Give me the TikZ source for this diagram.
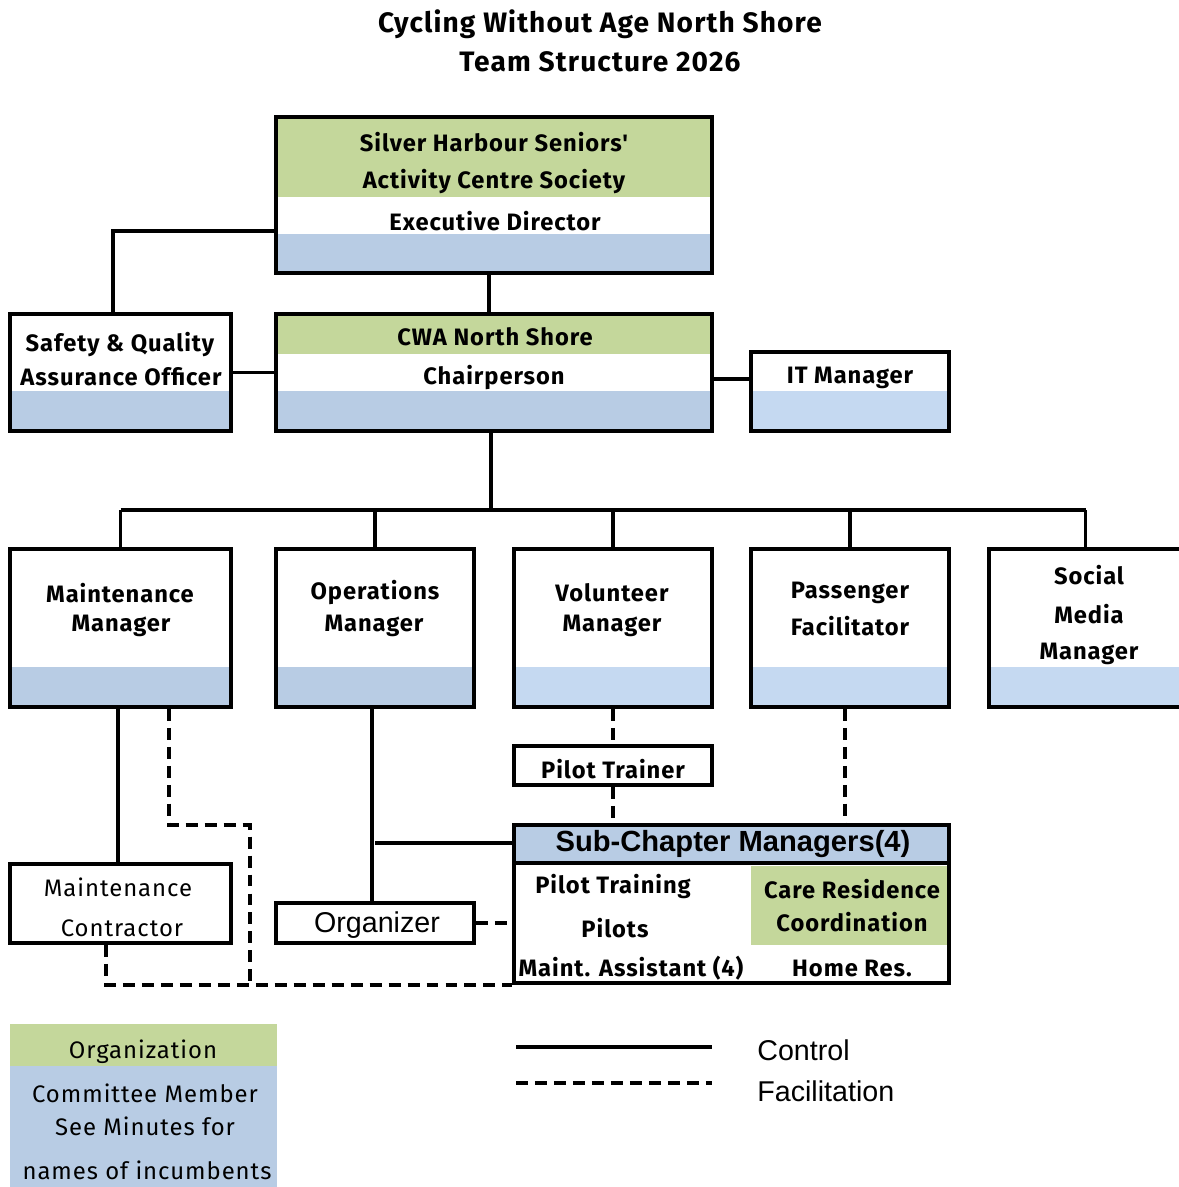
\documentclass[tikz,border=0pt]{standalone}
\usepackage{fontspec}
\setmainfont{Fira Sans}
\newfontfamily\orgfont[LetterSpace=4]{Fira Sans}
\newfontfamily\arialfont{Liberation Sans}
\usetikzlibrary{fit,calc}
\definecolor{orggreen}{HTML}{C4D79B}
\definecolor{memblue}{HTML}{B8CCE4}
\definecolor{paleblue}{HTML}{C5D9F1}
\tikzset{orgbox/.style={draw=black,line width=2.1pt,inner sep=0pt},
  ctrl/.style={draw=black,line width=2pt},
  facil/.style={draw=black,line width=2.1pt,dash pattern=on 6.8pt off 4pt},
  lbl/.style={font=\orgfont\fontsize{13.5}{15}\selectfont\bfseries,inner sep=0pt},
  plain/.style={font=\orgfont\fontsize{13.6}{15}\selectfont,inner sep=0pt},
  arl/.style={font=\arialfont\fontsize{16.3}{18}\selectfont,inner sep=0pt},
  ttl/.style={font=\orgfont\fontsize{16}{18}\selectfont\bfseries,inner sep=0pt}}
\begin{document}
\begin{tikzpicture}[x=0.02cm,y=-0.02cm]
\useasboundingbox (0,0) rectangle (1179,1187);
% title
\node[ttl] (title1) at (600,24) {Cycling Without Age North Shore};
\node[ttl] (title2) at (600,62) {Team Structure 2026};
% colour bands
\fill[orggreen] (276,117) rectangle (712,197);
\fill[memblue] (276,234) rectangle (712,273);
\fill[orggreen] (276,314) rectangle (712,354);
\fill[memblue] (276,391) rectangle (712,431);
\fill[memblue] (10,391) rectangle (231,431);
\fill[paleblue] (751,391) rectangle (949,431);
\fill[memblue] (10,667) rectangle (231,707);
\fill[memblue] (276,667) rectangle (474,707);
\fill[paleblue] (514,667) rectangle (712,707);
\fill[paleblue] (751,667) rectangle (949,707);
\fill[paleblue] (989,667) rectangle (1179,707);
\fill[memblue] (514,825) rectangle (949,863);
\fill[orggreen] (751,866) rectangle (947,945);
% boxes
\node[orgbox,fit={(276,117)(712,273)}] (exec) {};
\node[orgbox,fit={(276,314)(712,431)}] (chair) {};
\node[orgbox,fit={(10,314)(231,431)}] (safety) {};
\node[orgbox,fit={(751,352)(949,431)}] (it) {};
\node[orgbox,fit={(10,549)(231,707)}] (mm) {};
\node[orgbox,fit={(276,549)(474,707)}] (om) {};
\node[orgbox,fit={(514,549)(712,707)}] (vm) {};
\node[orgbox,fit={(751,549)(949,707)}] (pf) {};
\node[orgbox,fit={(989,549)(1182,707)}] (smm) {};
\node[orgbox,fit={(514,746)(712,785)}] (trainer) {};
\node[orgbox,fit={(514,825)(949,983)}] (subch) {};
\node[orgbox,fit={(10,864)(231,943)}] (contr) {};
\node[orgbox,fit={(276,903)(474,943)}] (organizer) {};
\draw[orgbox] (subch.west |- 0,863) -- (subch.east |- 0,863);
% texts
\node[lbl] (execT1) at (494,142) {Silver Harbour Seniors'};
\node[lbl] (execT2) at (494,182) {Activity Centre Society};
\node[lbl] (execT3) at (495,221) {Executive Director};
\node[lbl] (chairT1) at (495,337) {CWA North Shore};
\node[lbl] (chairT2) at (494,378) {Chairperson};
\node[lbl] (safetyT1) at (120,345) {Safety \& Quality};
\node[lbl] (safetyT2) at (121,377) {Assurance Officer};
\node[lbl] (itT) at (850,378) {IT Manager};
\node[lbl] (mmT1) at (120,593) {Maintenance};
\node[lbl] (mmT2) at (121,626) {Manager};
\node[lbl] (omT1) at (375,593) {Operations};
\node[lbl] (omT2) at (374,626) {Manager};
\node[lbl] (vmT1) at (612,593) {Volunteer};
\node[lbl] (vmT2) at (612,626) {Manager};
\node[lbl] (pfT1) at (850,593) {Passenger};
\node[lbl] (pfT2) at (850,626) {Facilitator};
\node[lbl] (smmT1) at (1089,575) {Social};
\node[lbl] (smmT2) at (1089,614) {Media};
\node[lbl] (smmT3) at (1089,654) {Manager};
\node[lbl] (trainerT) at (613,769) {Pilot Trainer};
\node[font=\arialfont\fontsize{16.6}{18}\selectfont\bfseries,inner sep=0pt] (subchT) at (733,844) {Sub-Chapter Managers(4)};
\node[lbl] (subchT1) at (613,887) {Pilot Training};
\node[lbl] (subchT2) at (615,928) {Pilots};
\node[lbl] (subchT3) at (631,968) {Maint. Assistant (4)};
\node[lbl] (subchT4) at (852,889) {Care Residence};
\node[lbl] (subchT5) at (852,922) {Coordination};
\node[lbl] (subchT6) at (852,968) {Home Res.};
\node[plain] (contrT1) at (118,887) {Maintenance};
\node[plain] (contrT2) at (122,928) {Contractor};
\node[arl] (organizerT) at (377,925) {Organizer};
% connectors
\coordinate (edL) at (113,231);
\draw[ctrl] (exec.west |- edL) -- (edL) -- (safety.north -| edL);
\draw[ctrl] (safety.east) -- (chair.west);
\draw[ctrl] (exec.south -| 489,0) -- (chair.north -| 489,0);
\draw[ctrl] (chair.east |- 0,379) -- (it.west |- 0,379);
\coordinate (bus) at (491,510);
\draw[ctrl] (chair.south -| bus) -- (bus);
\draw[ctrl] (mm.north |- bus) -- (smm.north |- bus);
\foreach \b in {mm,om,vm,pf,smm}
  \draw[ctrl] (\b.north |- bus) -- (\b.north);
\draw[ctrl] (mm.south -| 118,0) -- (contr.north -| 118,0);
\draw[ctrl] (om.south -| 372,0) -- (organizer.north -| 372,0);
\draw[ctrl] (om.south |- 0,843) -- (subch.west |- 0,843);
\draw[facil] (vm.south) -- (trainer.north);
\draw[facil] (trainer.south) -- (trainer.south |- subch.north);
\draw[facil] (pf.south -| 845,0) -- (subch.north -| 845,0);
\draw[facil] (organizer.east) -- (subch.west |- organizer.east);
\coordinate (mmD) at (169,825);
\coordinate (mmE) at (250,825);
\draw[facil] (mm.south -| mmD) -- (mmD) -- (mmE) -- (mmE |- subch.south);
\draw[facil] (contr.south -| 106,0) |- (subch.south west);
% legend
\fill[orggreen] (10,1024) rectangle (277,1066);
\fill[memblue] (10,1066) rectangle (277,1187);
\node[plain] (legOrg) at (143,1052) {Organization};
\node[plain] (legMem1) at (145,1093) {Committee Member};
\node[plain] (legMem2) at (145,1126) {See Minutes for};
\node[plain] (legMem3) at (147,1170) {names of incumbents};
\coordinate (ctlA) at (516,1047);
\coordinate (ctlB) at (712,1047);
\coordinate (facA) at (516,1083);
\coordinate (facB) at (712,1083);
\draw[ctrl] (ctlA) -- (ctlB);
\draw[facil] (facA) -- (facB);
\node[arl,anchor=west] (legCtl) at (757,1050) {Control};
\node[arl,anchor=west] (legFac) at (757,1091) {Facilitation};
\end{tikzpicture}
\end{document}
